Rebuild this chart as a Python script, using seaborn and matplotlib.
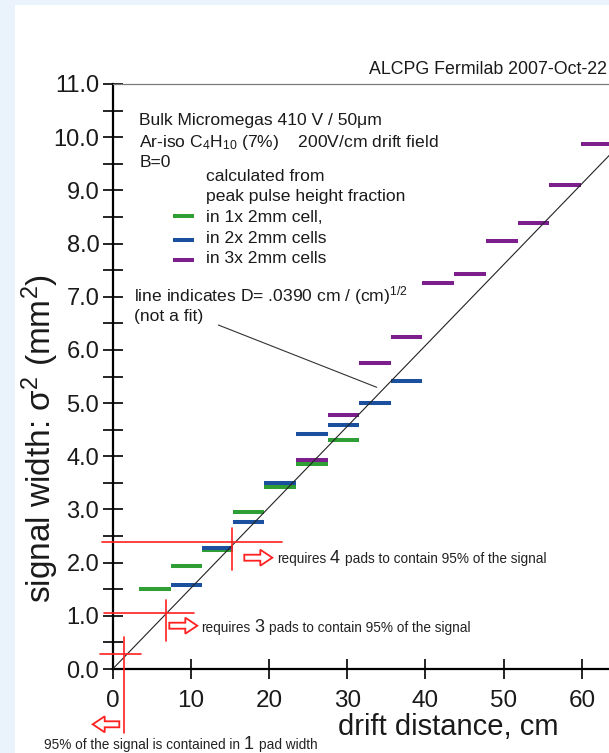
import numpy as np
import pandas as pd
import matplotlib
matplotlib.use("Agg")
import matplotlib.pyplot as plt
import seaborn as sns
from matplotlib.patches import Polygon, Rectangle
from matplotlib.lines import Line2D
from matplotlib.ticker import MultipleLocator

# ---- data -------------------------------------------------------------
# drift-distance bins (cm)
bin_start = [3.4, 7.4, 11.4, 15.4, 19.4, 23.4, 27.5, 31.5, 35.6, 39.6, 43.7, 47.8, 51.8, 55.8, 59.9]
bin_end = [7.4, 11.4, 15.4, 19.4, 23.4, 27.5, 31.5, 35.6, 39.6, 43.7, 47.8, 51.8, 55.8, 59.9, 64.0]

# signal width sigma^2 (mm^2) per bin; None = no measurement
sigma2_1cell = [1.50, 1.94, 2.24, 2.95, 3.42, 3.86, 4.31]
sigma2_2cell = [None, 1.58, 2.28, 2.77, 3.50, 4.41, 4.59, 5.00, 5.42]
sigma2_3cell = [None, None, None, None, None, 3.93, 4.78, 5.75, 6.25, 7.25, 7.42, 8.05, 8.39, 9.11, 9.88]

series_names = ["in 1x 2mm cell,", "in 2x 2mm cells", "in 3x 2mm cells"]
series_colors = ["#2E9E35", "#1B509F", "#7C1F8D"]

# diffusion constant of the reference line, cm / (cm)^1/2
D_coef = 0.0390

# pad-containment marks: sigma^2 (mm^2), drift (cm), number of pads
pad_sigma2 = [0.28, 1.06, 2.38]
pad_drift = [1.4, 6.8, 15.3]
pad_count = ["1", "3", "4"]

x_ticks = [0, 10, 20, 30, 40, 50, 60]
x_labels = ["0", "10", "20", "30", "40", "50", "60"]
y_ticks = [0.0, 1.0, 2.0, 3.0, 4.0, 5.0, 6.0, 7.0, 8.0, 9.0, 10.0, 11.0]

# ---- style ------------------------------------------------------------
sns.set_style("ticks")
plt.rcParams["font.family"] = ["Liberation Sans", "DejaVu Sans"]
plt.rcParams["mathtext.fontset"] = "custom"
plt.rcParams["mathtext.rm"] = "Liberation Sans"
plt.rcParams["mathtext.it"] = "Liberation Sans:italic"
plt.rcParams["mathtext.bf"] = "Liberation Sans:bold"
plt.rcParams["mathtext.default"] = "rm"

W, H = 609, 753
fig = plt.figure(figsize=(W / 100, H / 100), dpi=100, facecolor="#EAF3FB")


def fx(px):
    return px / W


def fy(py):
    return 1 - py / H


# white page
fig.add_artist(Rectangle((fx(15), 0), 1.0, fy(5), transform=fig.transFigure,
                         facecolor="white", edgecolor="none", zorder=-10))

# axes: 7.82 px per cm, 53.18 px per mm^2
x0_px, y0_px, y1_px = 112.7, 669.0, 84.0
xmax = 70
ax = fig.add_axes([fx(x0_px), fy(y0_px), xmax * 7.82 / W, (y0_px - y1_px) / H])
ax.set_facecolor("none")
ax.set_xlim(0, xmax)
ax.set_ylim(0, 11)

# ---- measured bins ----------------------------------------------------
rows = []
seg = 0
for name, vals in zip(series_names, [sigma2_1cell, sigma2_2cell, sigma2_3cell]):
    for i, v in enumerate(vals):
        if v is None:
            continue
        rows.append({"cells": name, "seg": seg, "drift": bin_start[i], "sigma2": v})
        rows.append({"cells": name, "seg": seg, "drift": bin_end[i], "sigma2": v})
        seg += 1
df = pd.DataFrame(rows)

sns.lineplot(data=df, x="drift", y="sigma2", hue="cells", units="seg",
             estimator=None, sort=False, hue_order=series_names,
             palette=dict(zip(series_names, series_colors)),
             linewidth=2.9, solid_capstyle="butt", legend=False, ax=ax, zorder=3)

# reference diffusion line sigma^2 = D^2 * L  (cm^2 -> mm^2)
ref = pd.DataFrame({"drift": [0, xmax]})
ref["sigma2"] = 100 * D_coef ** 2 * ref["drift"]
sns.lineplot(data=ref, x="drift", y="sigma2", color="#222222", linewidth=0.8,
             ax=ax, zorder=4)

# ---- pad-containment crosshairs --------------------------------------
red = "#FF2020"
h_extent = [(-1.6, 3.6), (-1.1, 10.4), (-1.4, 21.6)]
v_extent = [(-1.20, 0.60), (0.53, 1.30), (1.86, 2.65)]
for xs, ys, hx, vy in zip(pad_drift, pad_sigma2, h_extent, v_extent):
    ax.plot(hx, [ys, ys], color=red, lw=1.2, clip_on=False, zorder=5)
    ax.plot([xs, xs], vy, color=red, lw=1.2, clip_on=False, zorder=5)

# ---- axes cosmetics ---------------------------------------------------
for side in ["left", "bottom"]:
    ax.spines[side].set_color("black")
    ax.spines[side].set_linewidth(1.6)
ax.spines["top"].set_visible(True)
ax.spines["top"].set_color("#7a7a7a")
ax.spines["top"].set_linewidth(0.9)
ax.spines["right"].set_visible(False)

ax.set_xticks(x_ticks, labels=x_labels)
ax.set_yticks(y_ticks, labels=[f"{v:.1f}" for v in y_ticks])
ax.yaxis.set_minor_locator(MultipleLocator(0.5))
ax.tick_params(axis="x", which="major", direction="inout", length=14.5, width=1.2,
               color="black", labelsize=17.5, pad=8.0, labelcolor="#1a1a1a")
ax.tick_params(axis="y", which="both", direction="inout", length=13.7, width=1.2,
               color="black", labelsize=17, pad=2.8, labelcolor="#1a1a1a")
ax.set_xlabel("")
ax.set_ylabel("")

fig.text(fx(448.3), fy(735), "drift distance, cm", fontsize=21, ha="center",
         va="baseline", color="#1a1a1a")
fig.text(fx(40), fy(438), "signal width: σ$^2$ (mm$^2$)", fontsize=24,
         rotation=90, ha="center", va="center", color="#1a1a1a")

# ---- text block -------------------------------------------------------
txt = "#1a1a1a"
fig.text(fx(607), fy(74), "ALCPG Fermilab 2007-Oct-22", fontsize=12.8,
         va="baseline", ha="right", color=txt)

d_str = f"{D_coef:.4f}".lstrip("0")
block = [
    (139.3, 125.0, "Bulk Micromegas 410 V / 50μm"),
    (139.3, 147.3, "Ar-iso C$_4$H$_{10}$ (7%)    200V/cm drift field"),
    (139.3, 167.0, "B=0"),
    (206.0, 181.0, "calculated from"),
    (206.0, 201.5, "peak pulse height fraction"),
    (206.0, 222.0, series_names[0]),
    (206.0, 242.7, series_names[1]),
    (206.0, 263.3, series_names[2]),
    (134.3, 301.7, f"line indicates D= {d_str} cm / (cm)$^{{1/2}}$"),
    (134.3, 321.0, "(not a fit)"),
]
for xp, yp, s in block:
    fig.text(fx(xp), fy(yp), s, fontsize=12.6, va="baseline", color=txt)

for yp, c in zip([216.0, 239.5, 259.5], series_colors):
    fig.add_artist(Line2D([fx(173.3), fx(194.0)], [fy(yp), fy(yp)], color=c,
                          lw=2.9, solid_capstyle="butt", transform=fig.transFigure))

fig.add_artist(Line2D([fx(218.3), fx(376.7)], [fy(325.0), fy(387.3)],
                      color="#333333", lw=0.8, transform=fig.transFigure))

# ---- red arrows with captions ----------------------------------------
renderer = fig.canvas.get_renderer()


def caption(x_px, base_px, parts):
    x = x_px
    for s, size in parts:
        t = fig.text(fx(x), fy(base_px), s, fontsize=size, va="baseline",
                     ha="left", color="#222222")
        bb = t.get_window_extent(renderer)
        x = bb.x1 + 0.28 * size * 100 / 72


def block_arrow(tail, tip, cy, shaft_h=6.0, head_h=16.0, head_l=12.0):
    d = 1 if tip > tail else -1
    neck = tip - d * head_l
    pts = [(tail, cy - shaft_h / 2), (neck, cy - shaft_h / 2), (neck, cy - head_h / 2),
           (tip, cy), (neck, cy + head_h / 2), (neck, cy + shaft_h / 2),
           (tail, cy + shaft_h / 2)]
    poly = Polygon([(fx(a), fy(b)) for a, b in pts], closed=True,
                   transform=fig.transFigure, facecolor="white",
                   edgecolor=red, lw=1.3)
    fig.add_artist(poly)


block_arrow(244.3, 272.3, 557.7)
caption(276.7, 563.3, [("requires", 9.8), (pad_count[2], 13),
                       ("pads to contain 95% of the signal", 9.8)])
block_arrow(169.3, 197.3, 625.7)
caption(201.0, 631.7, [("requires", 9.8), (pad_count[1], 13),
                       ("pads to contain 95% of the signal", 9.8)])
block_arrow(119.3, 92.7, 724.3)
caption(44.3, 749.3, [("95% of the signal is contained in", 9.8), (pad_count[0], 13),
                      ("pad width", 9.8)])

fig.savefig("out.png", dpi=100)
